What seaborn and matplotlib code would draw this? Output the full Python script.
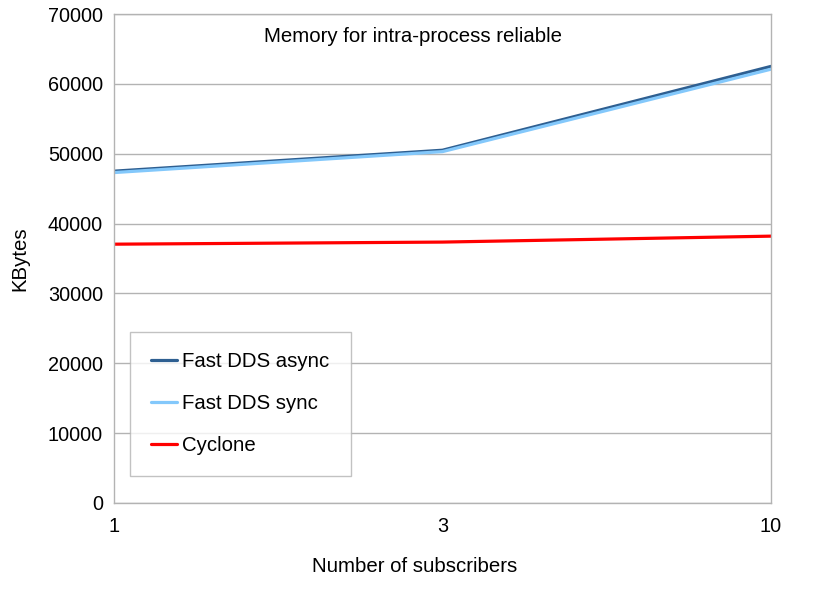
import matplotlib
matplotlib.use("Agg")
import matplotlib.pyplot as plt
import pandas as pd
import seaborn as sns

subscribers = ["1", "3", "10"]
fast_async = [47500, 50500, 62500]
fast_sync = [47300, 50300, 62100]
cyclone = [37050, 37350, 38200]
series_names = ["Fast DDS async", "Fast DDS sync", "Cyclone"]
colors = ["#2e5f91", "#83c8fb", "#ff0000"]

rows = []
for name, vals in zip(series_names, [fast_async, fast_sync, cyclone]):
    for s, v in zip(subscribers, vals):
        rows.append({"Subscribers": s, "KBytes": v, "Series": name})
df = pd.DataFrame(rows)

sns.set_style("white")
plt.rcParams["font.family"] = ["Liberation Sans", "DejaVu Sans"]
plt.rcParams["text.color"] = "black"
plt.rcParams["axes.labelcolor"] = "black"
grey = "#b3b3b3"
fs = 14.7

fig = plt.figure(figsize=(8.25, 6.06), dpi=100)
ax = fig.add_axes([114 / 825, 1 - 503 / 606, (771 - 114) / 825, (503 - 14) / 606])

sns.lineplot(data=df, x="Subscribers", y="KBytes", hue="Series",
             hue_order=series_names, palette=colors, linewidth=2.3,
             sort=False, ax=ax)

ax.set_xlim(0, 2)
ax.set_ylim(0, 70000)
ax.set_yticks(range(0, 70001, 10000))
ax.grid(axis="y", color=grey, linewidth=1)
ax.grid(axis="x", visible=False)
ax.set_axisbelow(True)
for sp in ax.spines.values():
    sp.set_color(grey)
    sp.set_linewidth(1)
ax.tick_params(axis="both", direction="out", length=5, width=1, color=grey,
               labelsize=14.3, labelcolor="black")
ax.tick_params(axis="y", pad=3)
ax.tick_params(axis="x", pad=5)

ax.set_xlabel("Number of subscribers", fontsize=fs, labelpad=15)
ax.xaxis.set_label_coords(0.458, -0.111)
ax.set_ylabel("KBytes", fontsize=fs, labelpad=13)
ax.text(0.455, 0.955, "Memory for intra-process reliable", transform=ax.transAxes,
        ha="center", va="center", fontsize=fs)

leg = ax.legend(loc="lower left", bbox_to_anchor=(16 / 657, 27 / 489),
                fontsize=fs, frameon=True, fancybox=False, handlelength=1.3,
                handletextpad=0.25, labelspacing=1.12, borderpad=1.02,
                borderaxespad=0)
leg.get_frame().set_edgecolor(grey)
leg.get_frame().set_linewidth(1)

fig.savefig("out.png", dpi=100)
